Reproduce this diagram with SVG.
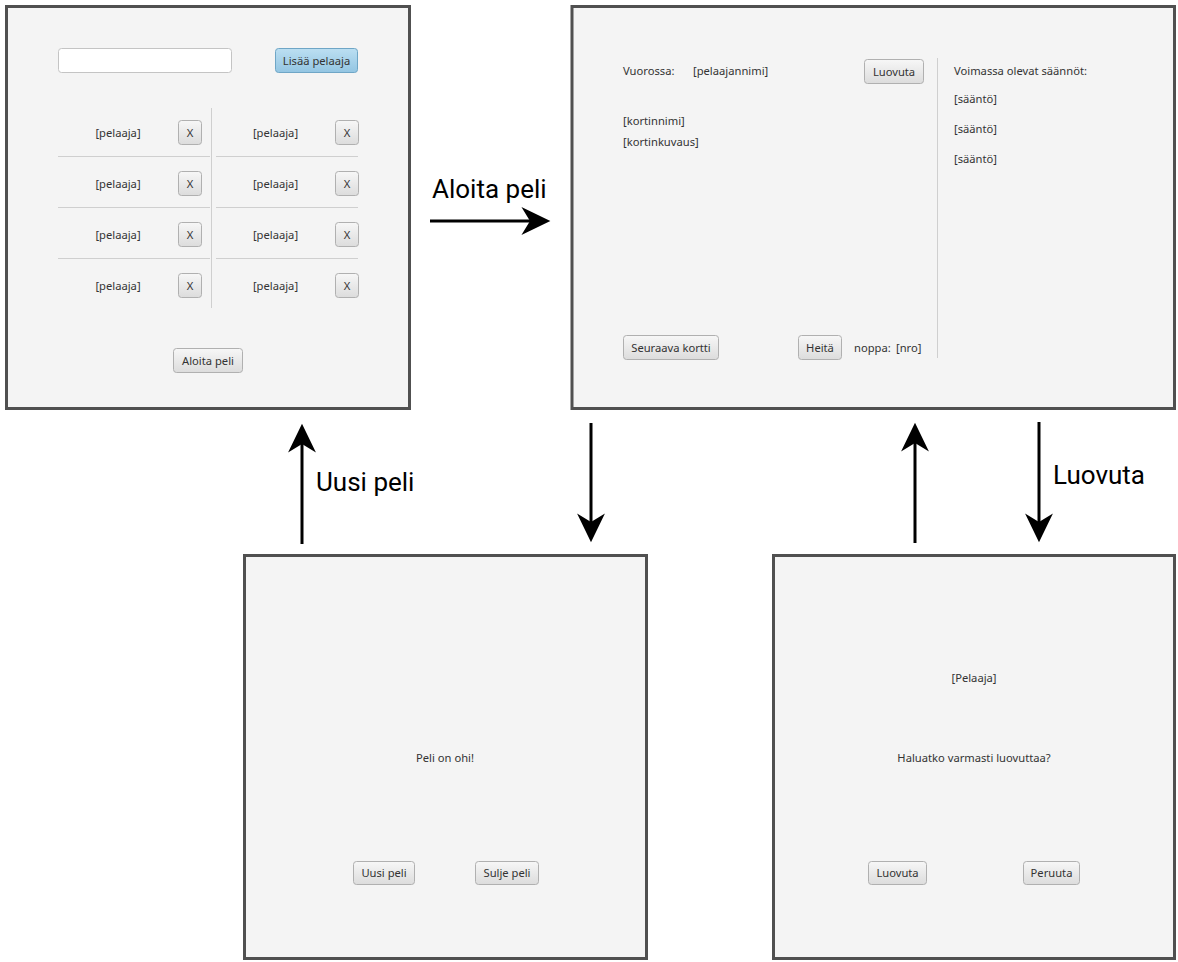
<svg xmlns="http://www.w3.org/2000/svg" width="1178" height="962" viewBox="0 0 1178 962">
<style>
.panel{fill:#f4f4f4;stroke:#505050;stroke-width:3}
.t{font-family:"Noto Sans","Open Sans",sans-serif;font-size:11.2px;fill:#333}
.c{text-anchor:middle}
.btn{fill:url(#g);stroke:#b0b0b0;stroke-width:1}
.sep{stroke:#cfcfcf;stroke-width:1}
.lbl{font-family:Roboto,"DejaVu Sans",sans-serif;font-size:26px;fill:#000}
.arr{stroke:#000;stroke-width:3;fill:none;marker-end:url(#ah)}
</style>
<defs>
<linearGradient id="g" x1="0" y1="0" x2="0" y2="1"><stop offset="0" stop-color="#f7f7f7"/><stop offset="1" stop-color="#dcdcdc"/></linearGradient>
<linearGradient id="gb" x1="0" y1="0" x2="0" y2="1"><stop offset="0" stop-color="#bcdff2"/><stop offset="1" stop-color="#93c5e2"/></linearGradient>
<marker id="ah" markerUnits="userSpaceOnUse" markerWidth="30" markerHeight="30" viewBox="0 -14 28 28" refX="8" refY="0" orient="auto">
<path d="M0,-13 L27,0 L0,13 L8,0 Z" fill="#000"/>
</marker>
</defs>
<rect width="1178" height="962" fill="#fff"/>

<g id="setup">
<rect class="panel" x="6.5" y="6.5" width="403" height="402"/>
<rect x="58.5" y="48.5" width="173" height="24" rx="3" fill="#fff" stroke="#c4c4c4"/>
<rect x="275.5" y="48.5" width="82" height="24" rx="3" fill="url(#gb)" stroke="#6fa6c6"/>
<text class="t c" x="316.5" y="64.5">Lisää pelaaja</text>
<line class="sep" x1="211.5" y1="108" x2="211.5" y2="308"/>
<line class="sep" x1="58" y1="156.5" x2="210" y2="156.5"/>
<line class="sep" x1="58" y1="207.5" x2="210" y2="207.5"/>
<line class="sep" x1="58" y1="258.5" x2="210" y2="258.5"/>
<line class="sep" x1="216" y1="156.5" x2="358" y2="156.5"/>
<line class="sep" x1="216" y1="207.5" x2="358" y2="207.5"/>
<line class="sep" x1="216" y1="258.5" x2="358" y2="258.5"/>
<text class="t c" x="118" y="137">[pelaaja]</text>
<text class="t c" x="275.5" y="137">[pelaaja]</text>
<text class="t c" x="118" y="188">[pelaaja]</text>
<text class="t c" x="275.5" y="188">[pelaaja]</text>
<text class="t c" x="118" y="239">[pelaaja]</text>
<text class="t c" x="275.5" y="239">[pelaaja]</text>
<text class="t c" x="118" y="290">[pelaaja]</text>
<text class="t c" x="275.5" y="290">[pelaaja]</text>
<rect class="btn" x="178.5" y="120.5" width="23" height="24" rx="3"/>
<rect class="btn" x="335.5" y="120.5" width="23" height="24" rx="3"/>
<rect class="btn" x="178.5" y="171.5" width="23" height="24" rx="3"/>
<rect class="btn" x="335.5" y="171.5" width="23" height="24" rx="3"/>
<rect class="btn" x="178.5" y="222.5" width="23" height="24" rx="3"/>
<rect class="btn" x="335.5" y="222.5" width="23" height="24" rx="3"/>
<rect class="btn" x="178.5" y="273.5" width="23" height="24" rx="3"/>
<rect class="btn" x="335.5" y="273.5" width="23" height="24" rx="3"/>
<text class="t c" x="190" y="137">X</text>
<text class="t c" x="347" y="137">X</text>
<text class="t c" x="190" y="188">X</text>
<text class="t c" x="347" y="188">X</text>
<text class="t c" x="190" y="239">X</text>
<text class="t c" x="347" y="239">X</text>
<text class="t c" x="190" y="290">X</text>
<text class="t c" x="347" y="290">X</text>
<rect class="btn" x="173.5" y="348.5" width="69" height="24" rx="3"/>
<text class="t c" x="208" y="364.5">Aloita peli</text>
</g>

<g id="game">
<rect class="panel" x="572" y="6.5" width="602.5" height="402"/>
<text class="t" x="623" y="75">Vuorossa:</text>
<text class="t" x="693" y="75">[pelaajannimi]</text>
<rect class="btn" x="864.5" y="59.5" width="59" height="24" rx="3"/>
<text class="t c" x="894" y="75.5">Luovuta</text>
<line class="sep" x1="937.5" y1="58" x2="937.5" y2="358"/>
<text class="t" x="954" y="75">Voimassa olevat säännöt:</text>
<text class="t" x="954" y="103">[sääntö]</text>
<text class="t" x="954" y="133">[sääntö]</text>
<text class="t" x="954" y="163">[sääntö]</text>
<text class="t" x="623" y="125">[kortinnimi]</text>
<text class="t" x="623" y="146">[kortinkuvaus]</text>
<rect class="btn" x="623.5" y="335.5" width="95" height="24" rx="3"/>
<text class="t c" x="671" y="351.5">Seuraava kortti</text>
<rect class="btn" x="798.5" y="335.5" width="43" height="24" rx="3"/>
<text class="t c" x="820" y="351.5">Heitä</text>
<text class="t" x="854" y="351.5">noppa:</text>
<text class="t" x="896" y="351.5">[nro]</text>
</g>

<g id="gameover">
<rect class="panel" x="244.5" y="555.5" width="402" height="403"/>
<text class="t c" x="445" y="762">Peli on ohi!</text>
<rect class="btn" x="353.5" y="861.5" width="61" height="23" rx="3"/>
<text class="t c" x="384" y="877">Uusi peli</text>
<rect class="btn" x="475.5" y="861.5" width="63" height="23" rx="3"/>
<text class="t c" x="507" y="877">Sulje peli</text>
</g>

<g id="confirm">
<rect class="panel" x="773.5" y="555.5" width="401" height="403"/>
<text class="t c" x="974" y="682">[Pelaaja]</text>
<text class="t c" x="974" y="762">Haluatko varmasti luovuttaa?</text>
<rect class="btn" x="868.5" y="861.5" width="58" height="23" rx="3"/>
<text class="t c" x="897.5" y="877">Luovuta</text>
<rect class="btn" x="1023.5" y="861.5" width="56" height="23" rx="3"/>
<text class="t c" x="1051.5" y="877">Peruuta</text>
</g>

<g id="connectors">
<line class="arr" x1="430" y1="221" x2="530" y2="221"/>
<line class="arr" x1="302" y1="544" x2="302" y2="444"/>
<line class="arr" x1="591" y1="423" x2="591" y2="522"/>
<line class="arr" x1="915" y1="543" x2="915" y2="443"/>
<line class="arr" x1="1039" y1="422" x2="1039" y2="522"/>
<text class="lbl" x="432" y="197.5">Aloita peli</text>
<text class="lbl" x="316" y="490.5">Uusi peli</text>
<text class="lbl" x="1053" y="484">Luovuta</text>
</g>
</svg>
